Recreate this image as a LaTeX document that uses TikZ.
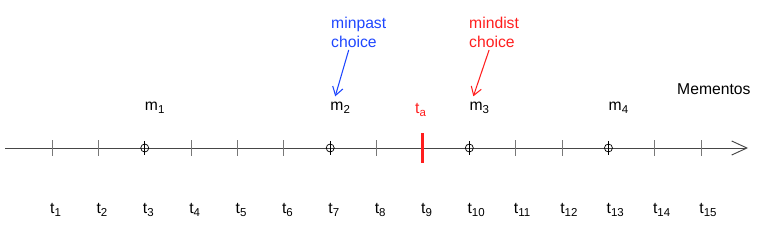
\documentclass[tikz,border=0pt]{standalone}
\usepackage{fontspec}
\setmainfont{Liberation Sans}
\usepackage{tikz}
\usetikzlibrary{arrows.meta,positioning,calc}
\definecolor{pastBlue}{RGB}{30,70,255}
\definecolor{distRed}{RGB}{255,30,30}
\definecolor{axisGray}{RGB}{70,70,70}
\definecolor{tickGray}{RGB}{120,120,120}
\newcommand{\lo}[1]{\raisebox{-0.45ex}{\fontsize{9.8}{10}\selectfont #1}}

\begin{document}
\begin{tikzpicture}[x=0.03cm, y=-0.03cm,
    every node/.style={font=\fontsize{13.4}{16.2}\selectfont, inner sep=0pt, anchor=base west},
    tk/.style={tickGray, line width=0.8pt},
    memento/.style={draw=black, line width=0.6pt},
    choiceArrow/.style={-{Straight Barb[length=7pt, width=9pt]}, line width=0.9pt}
  ]
    \useasboundingbox (0,0) rectangle (768,247);
    % time axis
    \coordinate (start) at (5,148);
    \coordinate (end) at (748,148);
    \draw[axisGray, line width=0.8pt, -{Straight Barb[length=13pt, width=12pt]}] (start) -- (end);
    % ticks and time labels
    \foreach \i in {1,...,15} {
      \coordinate (p\i) at ({52+46.37*(\i-1)},148);
      \node (t\i) at ({50+46.37*(\i-1)},213) {t\lo{\i}};
    }
    \foreach \i in {1,2,4,5,6,8,11,12,14,15}
      \draw[tk] ([shift={(0,-8)}]p\i) -- ([shift={(0,8)}]p\i);
    % mementos on the axis
    \foreach \i/\m in {3/1,7/2,10/3,13/4} {
      \draw[memento] (p\i) circle (4);
      \draw[memento] ([shift={(0,-7)}]p\i) -- ([shift={(0,7)}]p\i);
      \node (m\m) at ([shift={(0,-38)}]p\i) {m\lo{\m}};
    }
    % arrival time
    \draw[distRed, line width=2.6pt] ([shift={(0,-15)}]p9) -- ([shift={(0,15)}]p9);
    \node[text=distRed] (ta) at (415,113) {t\lo{a}};
    \node (mementos) at (677,94) {Mementos};
    % choices
    \node[text=pastBlue, align=left, anchor=north west] (minpast) at (331,17) {minpast\\choice};
    \node[text=distRed, align=left, anchor=north west] (mindist) at (469,17) {mindist\\choice};
    \draw[choiceArrow, pastBlue] ([shift={(-10,2)}]minpast.south) -- ([shift={(5,-5)}]m2.north west);
    \draw[choiceArrow, distRed] ([shift={(-5,2)}]mindist.south) -- ([shift={(4,-5)}]m3.north west);
  \end{tikzpicture}
\end{document}
